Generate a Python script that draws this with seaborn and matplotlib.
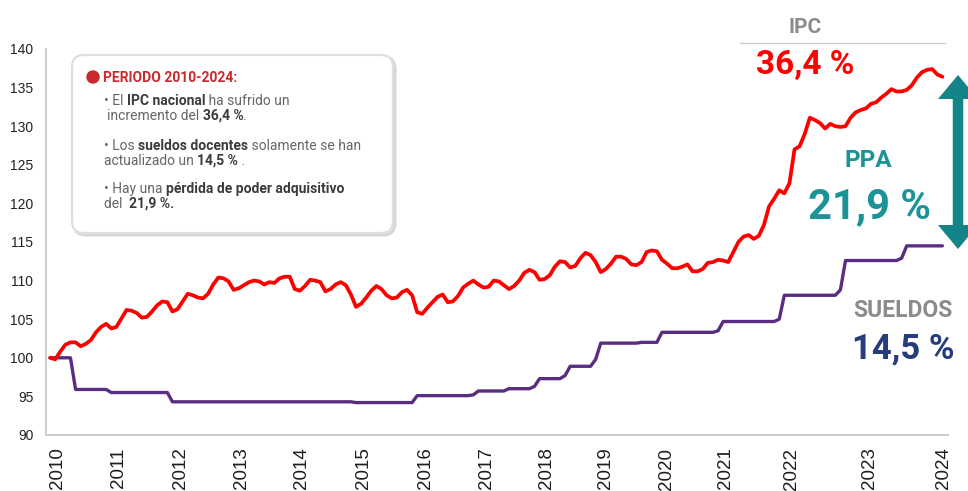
import numpy as np
import pandas as pd
import seaborn as sns
import matplotlib.pyplot as plt
from matplotlib.patches import FancyBboxPatch, FancyArrow, Circle
from matplotlib.transforms import IdentityTransform
from matplotlib.lines import Line2D

# ---- datos (indice mensual, base 2010 = 100) ----
years = [str(y) for y in range(2010, 2025)]
year_pos = [1.5, 13.5, 25.5, 37.5, 49.3, 61.5, 73.7, 85.5, 97.3, 109.0,
            120.8, 132.5, 145.5, 160.8, 175.3]

ipc = [
    100.0, 99.8, 100.8, 101.7, 102.0, 102.0, 101.5, 101.8, 102.3, 103.3,
    104.0, 104.4, 103.8, 104.0, 105.1, 106.2, 106.1, 105.8, 105.2, 105.3,
    106.0, 106.8, 107.3, 107.2, 106.0, 106.3, 107.3, 108.3, 108.1, 107.8,
    107.7, 108.3, 109.5, 110.4, 110.3, 109.9, 108.8, 109.0, 109.4, 109.8,
    110.0, 109.9, 109.5, 109.8, 109.7, 110.3, 110.5, 110.5, 108.9, 108.7,
    109.3, 110.1, 110.0, 109.8, 108.6, 108.9, 109.5, 109.8, 109.4, 108.2,
    106.6, 107.0, 107.8, 108.7, 109.3, 108.9, 108.1, 107.7, 107.8, 108.5,
    108.8, 108.1, 105.9, 105.7, 106.5, 107.2, 107.9, 108.2, 107.2, 107.3,
    108.0, 109.1, 109.6, 110.0, 109.5, 109.1, 109.2, 110.0, 109.9, 109.4,
    108.9, 109.3, 110.0, 111.0, 111.4, 111.1, 110.1, 110.2, 110.7, 111.8,
    112.5, 112.4, 111.7, 111.9, 112.9, 113.6, 113.3, 112.4, 111.1, 111.5,
    112.2, 113.1, 113.1, 112.8, 112.1, 112.0, 112.4, 113.7, 113.9, 113.8,
    112.7, 112.2, 111.6, 111.6, 111.8, 112.1, 111.2, 111.2, 111.5, 112.3,
    112.4, 112.7, 112.6, 112.4, 113.7, 115.0, 115.7, 115.9, 115.4, 115.8,
    117.2, 119.6, 120.6, 121.7, 121.3, 122.6, 127.0, 127.4, 129.0, 131.1,
    130.8, 130.4, 129.7, 130.3, 130.0, 129.9, 130.0, 131.1, 131.8, 132.1,
    132.3, 132.9, 133.1, 133.7, 134.2, 134.8, 134.5, 134.5, 134.7, 135.3,
    136.3, 137.0, 137.3, 137.4, 136.7, 136.4,
]

sueldos = [
    100.0, 100.0, 100.0, 100.0, 100.0, 95.9, 95.9, 95.9, 95.9, 95.9,
    95.9, 95.9, 95.5, 95.5, 95.5, 95.5, 95.5, 95.5, 95.5, 95.5,
    95.5, 95.5, 95.5, 95.5, 94.3, 94.3, 94.3, 94.3, 94.3, 94.3,
    94.3, 94.3, 94.3, 94.3, 94.3, 94.3, 94.3, 94.3, 94.3, 94.3,
    94.3, 94.3, 94.3, 94.3, 94.3, 94.3, 94.3, 94.3, 94.3, 94.3,
    94.3, 94.3, 94.3, 94.3, 94.3, 94.3, 94.3, 94.3, 94.3, 94.3,
    94.2, 94.2, 94.2, 94.2, 94.2, 94.2, 94.2, 94.2, 94.2, 94.2,
    94.2, 94.2, 95.1, 95.1, 95.1, 95.1, 95.1, 95.1, 95.1, 95.1,
    95.1, 95.1, 95.1, 95.2, 95.7, 95.7, 95.7, 95.7, 95.7, 95.7,
    96.0, 96.0, 96.0, 96.0, 96.0, 96.3, 97.3, 97.3, 97.3, 97.3,
    97.3, 97.7, 98.9, 98.9, 98.9, 98.9, 98.9, 99.8, 101.9, 101.9,
    101.9, 101.9, 101.9, 101.9, 101.9, 101.9, 102.0, 102.0, 102.0, 102.0,
    103.3, 103.3, 103.3, 103.3, 103.3, 103.3, 103.3, 103.3, 103.3, 103.3,
    103.3, 103.5, 104.7, 104.7, 104.7, 104.7, 104.7, 104.7, 104.7, 104.7,
    104.7, 104.7, 104.7, 105.0, 108.1, 108.1, 108.1, 108.1, 108.1, 108.1,
    108.1, 108.1, 108.1, 108.1, 108.1, 108.8, 112.6, 112.6, 112.6, 112.6,
    112.6, 112.6, 112.6, 112.6, 112.6, 112.6, 112.6, 112.9, 114.5, 114.5,
    114.5, 114.5, 114.5, 114.5, 114.5, 114.5,
]

df = pd.DataFrame({
    "mes": list(range(len(ipc))) * 2,
    "valor": ipc + sueldos,
    "serie": ["IPC"] * len(ipc) + ["Sueldos"] * len(sueldos),
})

# ---- figura ----
W, H = 968, 491
sns.set_theme(style="white")
plt.rcParams["font.family"] = ["Roboto", "DejaVu Sans"]

fig = plt.figure(figsize=(W / 100, H / 100), dpi=100)
ax = fig.add_axes([46 / W, 1 - 435 / H, (948 - 46) / W, (435 - 49) / H])

sns.lineplot(data=df, x="mes", y="valor", hue="serie",
             palette={"IPC": "#ff0000", "Sueldos": "#5a2d82"},
             ax=ax, legend=False, linewidth=2.4)
for ln in ax.lines:
    if ln.get_color() == "#ff0000":
        ln.set_linewidth(2.7)
        ln.set_zorder(3)

ax.set_xlim(-0.8, 176.1)
ax.set_ylim(90, 140)
ax.set_yticks(range(90, 141, 5))
ax.set_xticks(year_pos)
ax.set_xticklabels(years, rotation=90, fontsize=13.5, color="#1e1e1e",
                   family=["Liberation Sans", "DejaVu Sans"])
for lab in ax.get_yticklabels():
    lab.set_family(["Liberation Sans", "DejaVu Sans"])
    lab.set_fontsize(10)
    lab.set_color("#222222")
ax.tick_params(axis="both", length=0)
ax.tick_params(axis="y", pad=9)
ax.tick_params(axis="x", pad=9)
ax.set_xlabel("")
ax.set_ylabel("")
for s in ["top", "right"]:
    ax.spines[s].set_visible(False)
for s in ["left", "bottom"]:
    ax.spines[s].set_color("#cccccc")
    ax.spines[s].set_linewidth(1.4)

idt = IdentityTransform()

def px(x, y_top):
    return x, H - y_top

# cuadro de texto
shadow = FancyBboxPatch(px(74, 235), 321, 178, boxstyle="round,pad=0,rounding_size=12",
                        transform=idt, facecolor="none", edgecolor="#d6d6d6", lw=2.2, zorder=4)
box = FancyBboxPatch(px(72, 233), 321, 178, boxstyle="round,pad=0,rounding_size=12",
                     transform=idt, facecolor="white", edgecolor="#dedede", lw=1.6, zorder=5)
fig.add_artist(shadow)
fig.add_artist(box)
fig.add_artist(Circle(px(93, 77), 6, transform=idt, color="#c62a2f", zorder=6))

renderer = fig.canvas.get_renderer()

def rich(x, y_top, parts, size=10):
    xx = x
    for txt, bold in parts:
        t = fig.text(xx, H - y_top, txt, transform=idt, fontsize=size,
                     fontweight="bold" if bold else "normal",
                     color="#3b3b3b" if bold else "#666666",
                     va="baseline", ha="left", zorder=7)
        xx = t.get_window_extent(renderer).x1

fig.text(103, H - 82, "PERIODO 2010-2024:", transform=idt, fontsize=10,
         fontweight="bold", color="#c62a2f", va="baseline", zorder=7)
rich(104, 105, [("• El ", False), ("IPC nacional", True), (" ha sufrido un", False)])
rich(107, 120, [("incremento del ", False), ("36,4 %", True), (".", False)])
rich(104, 150, [("• Los ", False), ("sueldos docentes", True), (" solamente se han", False)])
rich(104, 165, [("actualizado un ", False), ("14,5 %", True), (" .", False)])
rich(104, 193, [("• Hay una ", False), ("pérdida de poder adquisitivo", True)])
rich(104, 208, [("del  ", False), ("21,9 %.", True)])

# etiquetas de la derecha
def label(x, y_top, txt, size, color):
    fig.text(x, H - y_top, txt, transform=idt, fontsize=size, fontweight="bold",
             color=color, ha="center", va="baseline", zorder=7)

fig.add_artist(Line2D([740, 945], [H - 43, H - 43], transform=idt, color="#cfcfcf", lw=1))
label(805, 33, "IPC", 15, "#8a8a8f")
label(805, 74, "36,4 %", 24, "#ff0000")
label(868, 167, "PPA", 17.5, "#1b9497")
label(869, 218, "21,9 %", 30, "#1b9497")
label(903, 317, "SUELDOS", 16.5, "#8a8a8f")
label(903, 358, "14,5 %", 25, "#263c7c")

# flecha doble PPA
mid = (75 + 249) / 2
for end in (75, 249):
    fig.add_artist(FancyArrow(958, H - mid, 0, (mid - end), width=10.5, head_width=40,
                              head_length=24, length_includes_head=True,
                              transform=idt, color="#138487", lw=0, zorder=6))

fig.savefig("out.png", dpi=100)
